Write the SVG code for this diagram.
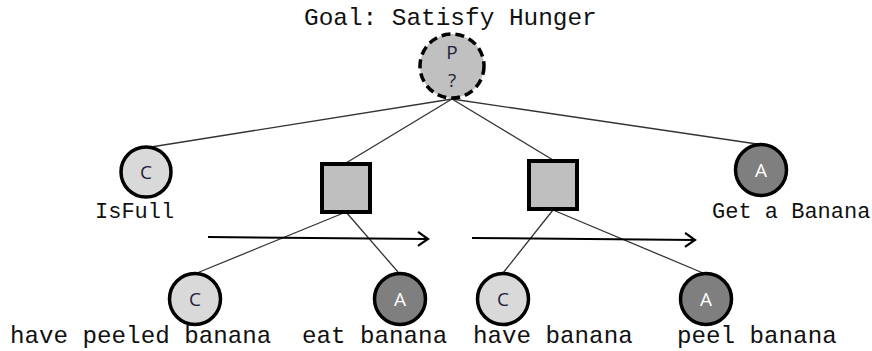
<svg xmlns="http://www.w3.org/2000/svg" width="872" height="351" viewBox="0 0 872 351">
  <style>
    .mono { font-family: "Liberation Mono", "Courier New", monospace; fill: #111; }
    .sans { font-family: "Open Sans", "Liberation Sans", sans-serif; font-size: 19px; text-anchor: middle; }
    .cond { fill: #d9d9d9; stroke: #000; stroke-width: 3.5; }
    .act { fill: #7f7f7f; stroke: #000; stroke-width: 3.5; }
    .seq { fill: #bfbfbf; stroke: #000; stroke-width: 4; }
    .edge { stroke: #333; stroke-width: 1.3; fill: none; }
    .flow { stroke: #000; stroke-width: 2; fill: none; }
  </style>
  <defs>
    <marker id="chevron" markerWidth="14" markerHeight="16" refX="12" refY="8" orient="auto" markerUnits="userSpaceOnUse">
      <path d="M2,1 L12,8 L2,15" fill="none" stroke="#000" stroke-width="2.2"/>
    </marker>
  </defs>
  <rect width="872" height="351" fill="#fff"/>

  <!-- tree edges and sequence arrows -->
  <g id="connectors">
    <line class="edge" x1="452" y1="99" x2="151" y2="147"/>
    <line class="edge" x1="452" y1="99" x2="346" y2="163"/>
    <line class="edge" x1="452" y1="99" x2="553" y2="160"/>
    <line class="edge" x1="452" y1="99" x2="757" y2="144"/>
    <line class="edge" x1="346" y1="212" x2="197" y2="273"/>
    <line class="edge" x1="346" y1="212" x2="398" y2="272"/>
    <line class="edge" x1="553" y1="210" x2="503" y2="273"/>
    <line class="edge" x1="553" y1="210" x2="703" y2="273"/>
    <line class="flow" x1="208" y1="237" x2="428" y2="239" marker-end="url(#chevron)"/>
    <line class="flow" x1="472" y1="238" x2="695" y2="240" marker-end="url(#chevron)"/>
  </g>

  <g id="goal">
    <text class="mono" x="304" y="25" font-size="24.4">Goal: Satisfy Hunger</text>
    <circle cx="452" cy="66" r="32" fill="#c0c0c0" stroke="#000" stroke-width="3.5" stroke-dasharray="9 5"/>
    <text class="sans" x="452" y="59" font-size="16" fill="#1f1f3a">P</text>
    <text class="sans" x="452" y="87" font-size="16" fill="#1f1f3a">?</text>
  </g>

  <g id="isfull">
    <circle class="cond" cx="146" cy="172" r="25"/>
    <text class="sans" x="146" y="179" fill="#1f1f3a">C</text>
    <text class="mono" x="95" y="218" font-size="22">IsFull</text>
  </g>

  <g id="seq-left">
    <rect class="seq" x="322" y="164" width="48" height="48"/>
  </g>

  <g id="seq-right">
    <rect class="seq" x="529" y="161" width="48" height="48"/>
  </g>

  <g id="get-banana">
    <circle class="act" cx="761" cy="170" r="25.5"/>
    <text class="sans" x="761" y="177" fill="#fff">A</text>
    <text class="mono" x="712" y="218" font-size="22">Get a Banana</text>
  </g>

  <g id="have-peeled-banana">
    <circle class="cond" cx="195" cy="299" r="25.5"/>
    <text class="sans" x="195" y="306" fill="#1f1f3a">C</text>
    <text class="mono" x="10" y="343" font-size="24.2">have peeled banana</text>
  </g>

  <g id="eat-banana">
    <circle class="act" cx="400" cy="299" r="25.5"/>
    <text class="sans" x="400" y="306" fill="#fff">A</text>
    <text class="mono" x="302" y="343" font-size="24.2">eat banana</text>
  </g>

  <g id="have-banana">
    <circle class="cond" cx="503" cy="299" r="25.5"/>
    <text class="sans" x="503" y="306" fill="#1f1f3a">C</text>
    <text class="mono" x="473" y="343" font-size="24.2">have banana</text>
  </g>

  <g id="peel-banana">
    <circle class="act" cx="706" cy="299" r="25.5"/>
    <text class="sans" x="706" y="306" fill="#fff">A</text>
    <text class="mono" x="677" y="343" font-size="24.2">peel banana</text>
  </g>
</svg>
